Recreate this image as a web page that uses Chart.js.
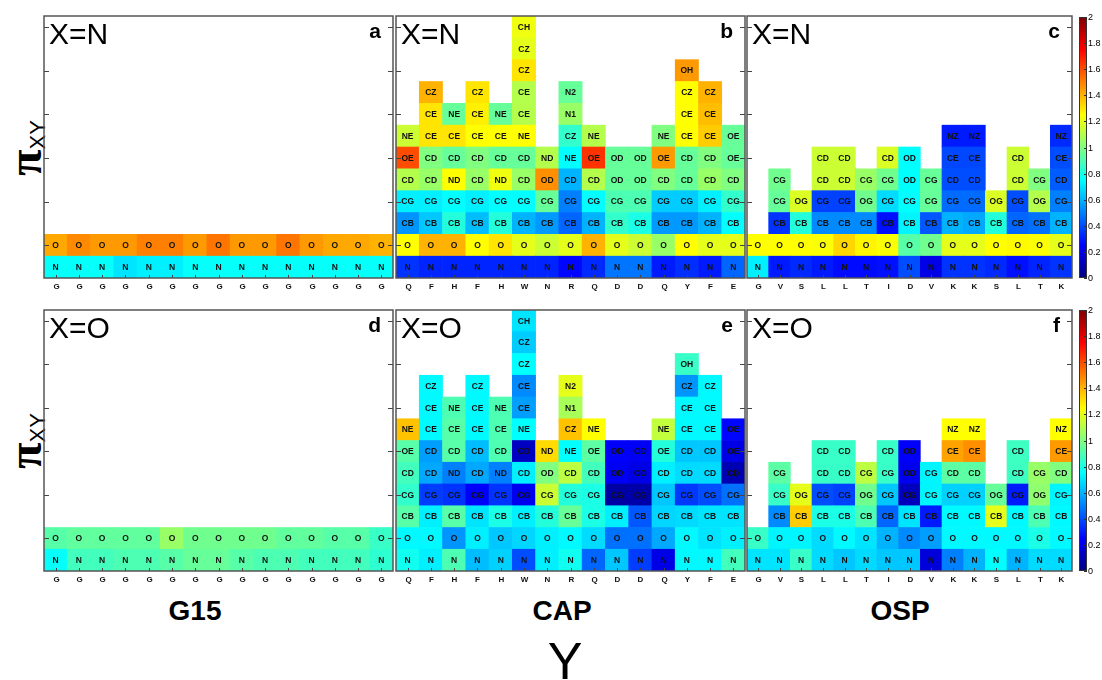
<!DOCTYPE html>
<html>
<head>
<meta charset="utf-8">
<script src="https://cdn.jsdelivr.net/npm/chart.js@4.4.1/dist/chart.umd.min.js"></script>
<style>
  body { margin: 0; background: #fff; width: 1102px; height: 680px; position: relative; overflow: hidden;
         font-family: "Liberation Sans", Arial, sans-serif; }
  canvas { position: absolute; }
  .t { position: absolute; white-space: nowrap; color: #000; line-height: 1; }
</style>
</head>
<body>
<div class="t" style="left:195px;top:597px;font-size:28px;font-weight:bold;transform:translateX(-50%)">G15</div>
<div class="t" style="left:562px;top:597px;font-size:28px;font-weight:bold;transform:translateX(-50%)">CAP</div>
<div class="t" style="left:900px;top:597px;font-size:28px;font-weight:bold;transform:translateX(-50%)">OSP</div>
<div class="t" style="left:565px;top:635px;font-size:52px;transform:translateX(-50%)">Y</div>
<div class="t" style="left:24px;top:148px;transform:translate(-50%,-50%) rotate(-90deg)"><b style="font:bold 48px 'Liberation Serif',serif">π</b><span style="font-size:22px;position:relative;top:4px">XY</span></div>
<div class="t" style="left:24px;top:441px;transform:translate(-50%,-50%) rotate(-90deg)"><b style="font:bold 48px 'Liberation Serif',serif">π</b><span style="font-size:22px;position:relative;top:4px">XY</span></div>

<script>
// ---- G15 (15 glycines, backbone N and O only) ----
const g15Res = ['G','G','G','G','G','G','G','G','G','G','G','G','G','G','G'];
const g15Atoms = [
  ['N','O'],['N','O'],['N','O'],['N','O'],['N','O'],['N','O'],['N','O'],['N','O'],
  ['N','O'],['N','O'],['N','O'],['N','O'],['N','O'],['N','O'],['N','O']
];
const g15N = [
  [0.76,1.42],[0.76,1.48],[0.76,1.45],[0.70,1.45],[0.72,1.50],[0.72,1.50],[0.76,1.45],[0.76,1.52],
  [0.76,1.45],[0.76,1.45],[0.76,1.52],[0.76,1.45],[0.76,1.42],[0.76,1.42],[0.76,1.40]
];
const g15O = [
  [0.76,0.92],[0.88,0.94],[0.88,0.94],[0.90,0.94],[0.90,0.94],[0.92,1.05],[0.95,0.97],[0.95,0.97],
  [0.92,0.97],[0.90,0.97],[0.90,0.94],[0.88,0.94],[0.88,0.92],[0.88,0.92],[0.84,0.86]
];

// ---- CAP ----
const capRes = ['Q','F','H','F','H','W','N','R','Q','D','D','Q','Y','F','E'];
const capAtoms = [
  ['N','O','CB','CG','CD','OE','NE'],
  ['N','O','CB','CG','CD','CD','CE','CE','CZ'],
  ['N','O','CB','CG','ND','CD','CE','NE'],
  ['N','O','CB','CG','CD','CD','CE','CE','CZ'],
  ['N','O','CB','CG','ND','CD','CE','NE'],
  ['N','O','CB','CG','CD','CD','NE','CE','CE','CZ','CZ','CH'],
  ['N','O','CB','CG','OD','ND'],
  ['N','O','CB','CG','CD','NE','CZ','N1','N2'],
  ['N','O','CB','CG','CD','OE','NE'],
  ['N','O','CB','CG','OD','OD'],
  ['N','O','CB','CG','OD','OD'],
  ['N','O','CB','CG','CD','OE','NE'],
  ['N','O','CB','CG','CD','CD','CE','CE','CZ','OH'],
  ['N','O','CB','CG','CD','CD','CE','CE','CZ'],
  ['N','O','CB','CG','CD','OE','OE']
];
const capN = [
  [0.35,1.25,0.54,0.72,1.10,1.60,1.15],
  [0.32,1.40,0.64,0.72,1.05,1.00,1.30,1.30,1.40],
  [0.32,1.40,0.82,0.75,1.25,0.95,1.30,0.95],
  [0.32,1.25,0.62,0.72,1.05,1.00,1.25,1.28,1.30],
  [0.32,1.30,0.82,0.75,1.22,0.95,1.25,0.95],
  [0.32,1.20,0.60,0.75,1.05,0.95,1.25,1.10,1.10,1.30,1.20,1.22],
  [0.32,1.15,0.55,0.95,1.47,1.10],
  [0.26,1.20,0.45,0.50,0.60,0.75,0.85,1.05,0.95],
  [0.33,1.40,0.60,0.75,1.10,1.65,1.10],
  [0.48,1.20,0.85,0.90,0.95,0.95],
  [0.48,1.15,0.80,0.90,0.95,0.95],
  [0.30,1.05,0.55,0.65,1.00,1.45,1.00],
  [0.34,1.25,0.55,0.65,0.95,0.95,1.25,1.25,1.25,1.45],
  [0.30,1.20,0.60,0.72,1.05,1.00,1.35,1.38,1.40],
  [0.45,1.20,0.75,0.85,1.00,0.95,0.95]
];
const capO = [
  [0.78,0.74,0.92,0.85,0.88,0.92,1.37],
  [0.72,0.74,0.72,0.37,0.58,0.56,0.74,0.74,0.74],
  [0.90,0.54,0.92,0.35,0.50,0.92,0.92,0.90],
  [0.62,0.72,0.70,0.25,0.58,0.62,0.74,0.74,0.74],
  [0.66,0.64,0.80,0.35,0.50,0.90,0.90,0.90],
  [0.40,0.67,0.72,0.22,0.72,0.13,0.75,0.56,0.52,0.75,0.65,0.70],
  [0.72,0.72,0.82,1.15,1.00,1.32],
  [0.78,0.74,0.95,0.82,1.12,0.75,1.37,1.08,1.20],
  [0.45,0.68,0.80,0.80,0.88,0.93,1.25],
  [0.64,0.47,0.72,0.07,0.23,0.24],
  [0.37,0.47,0.42,0.08,0.20,0.23],
  [0.20,0.58,0.67,0.64,0.72,0.82,1.13],
  [0.74,0.74,0.68,0.36,0.68,0.64,0.74,0.74,0.54,0.86],
  [0.74,0.70,0.70,0.40,0.68,0.64,0.74,0.74,0.74],
  [0.88,0.72,0.70,0.47,0.10,0.20,0.26]
];

// ---- OSP ----
const ospRes = ['G','V','S','L','L','T','I','D','V','K','K','S','L','T','K'];
const ospAtoms = [
  ['N','O'],
  ['N','O','CB','CG','CG'],
  ['N','O','CB','OG'],
  ['N','O','CB','CG','CD','CD'],
  ['N','O','CB','CG','CD','CD'],
  ['N','O','CB','OG','CG'],
  ['N','O','CB','CG','CG','CD'],
  ['N','O','CB','CG','OD','OD'],
  ['N','O','CB','CG','CG'],
  ['N','O','CB','CG','CD','CE','NZ'],
  ['N','O','CB','CG','CD','CE','NZ'],
  ['N','O','CB','OG'],
  ['N','O','CB','CG','CD','CD'],
  ['N','O','CB','OG','CG'],
  ['N','O','CB','CG','CD','CE','NZ']
];
const ospN = [
  [0.72,1.25],
  [0.30,1.25,0.35,0.95,0.97],
  [0.33,1.25,0.82,1.18],
  [0.30,1.24,0.52,0.38,1.15,1.15],
  [0.27,1.33,0.52,0.38,1.15,1.15],
  [0.27,1.27,0.52,0.97,1.05],
  [0.28,1.24,0.28,0.68,0.97,1.18],
  [0.40,0.92,0.73,0.75,0.75,0.75],
  [0.20,0.97,0.42,0.95,0.95],
  [0.35,1.20,0.60,0.46,0.40,0.39,0.30],
  [0.35,1.20,0.58,0.46,0.40,0.39,0.30],
  [0.33,1.25,0.82,1.18],
  [0.28,1.26,0.45,0.40,1.15,1.15],
  [0.32,1.24,0.47,1.10,1.00],
  [0.35,1.20,0.60,0.50,0.43,0.40,0.33]
];
const ospO = [
  [0.70,0.86],
  [0.70,0.73,0.52,0.86,0.93],
  [0.86,0.73,1.35,1.20],
  [0.68,0.68,0.80,0.40,0.86,0.86],
  [0.64,0.74,0.80,0.38,0.86,0.86],
  [0.68,0.70,0.90,0.97,1.12],
  [0.64,0.60,0.45,0.64,0.86,0.86],
  [0.64,0.52,0.70,0.12,0.22,0.24],
  [0.18,0.56,0.30,0.73,0.73],
  [0.50,0.74,0.74,0.66,0.93,1.43,1.25],
  [0.60,0.74,0.74,0.66,0.93,1.47,1.25],
  [0.75,0.74,1.20,0.95],
  [0.60,0.74,0.74,0.30,0.87,0.87],
  [0.68,0.80,0.90,1.03,1.05],
  [0.68,0.74,0.74,0.73,1.00,1.45,1.25]
];

const rowTicks = [1.5, 3.5, 5.5, 7.5, 9.5, 11.5];
const cbTicks = [0, 0.2, 0.4, 0.6, 0.8, 1, 1.2, 1.4, 1.6, 1.8, 2];
const NROWS = 12;

function jet(v) {
  const t = Math.max(0, Math.min(1, v / 2));
  const c = x => Math.round(255 * Math.max(0, Math.min(1, x)));
  return `rgb(${c(1.5 - Math.abs(4 * t - 3))},${c(1.5 - Math.abs(4 * t - 2))},${c(1.5 - Math.abs(4 * t - 1))})`;
}

function line(ctx, x1, y1, x2, y2) {
  ctx.beginPath(); ctx.moveTo(x1, y1); ctx.lineTo(x2, y2); ctx.stroke();
}

// cell labels, frame, ticks and panel texts
function panelPlugin(p) {
  return {
    id: 'cells',
    afterDatasetsDraw(chart) {
      const ctx = chart.ctx, ca = chart.chartArea;
      const xs = chart.scales.x, ys = chart.scales.y;
      ctx.save();
      ctx.font = 'bold 8.5px "Liberation Sans", Arial, sans-serif';
      ctx.fillStyle = '#111';
      ctx.textAlign = 'center';
      ctx.textBaseline = 'middle';
      chart.data.datasets.forEach((ds, k) => {
        chart.getDatasetMeta(k).data.forEach((bar, j) => {
          const name = p.atoms[j][k];
          if (!name) return;
          ctx.fillText(name, bar.x, (bar.y + bar.base) / 2 + 0.5);
        });
      });

      ctx.strokeStyle = '#444';
      ctx.lineWidth = 1;
      rowTicks.forEach(v => {
        const y = Math.round(ys.getPixelForValue(v)) + 0.5;
        line(ctx, ca.left, y, ca.left + 5, y);
        line(ctx, ca.right - 5, y, ca.right, y);
      });
      ctx.textBaseline = 'top';
      ctx.font = 'bold 8px "Liberation Sans", Arial, sans-serif';
      p.res.forEach((r, j) => {
        const x = Math.round(xs.getPixelForValue(j)) + 0.5;
        line(ctx, x, ca.bottom - 3, x, ca.bottom);
        ctx.fillText(r, x, ca.bottom + 5);
      });

      ctx.strokeStyle = '#555';
      ctx.lineWidth = 1.5;
      ctx.strokeRect(ca.left, ca.top, ca.width, ca.height);

      ctx.fillStyle = '#000';
      ctx.textBaseline = 'alphabetic';
      ctx.textAlign = 'left';
      ctx.font = '30px "Liberation Sans", Arial, sans-serif';
      ctx.fillText(p.tag, ca.left + 5, ca.top + 27.5);
      ctx.textAlign = 'right';
      ctx.font = 'bold 21px "Liberation Sans", Arial, sans-serif';
      ctx.fillText(p.letter, ca.right - 12, ca.top + 22);
      ctx.restore();
    }
  };
}

function makePanel(p) {
  const pad = { left: 3, right: 3, top: 3, bottom: 18 };
  const cv = document.createElement('canvas');
  cv.width = p.w + pad.left + pad.right;
  cv.height = p.h + pad.top + pad.bottom;
  cv.style.left = (p.x - pad.left) + 'px';
  cv.style.top = (p.y - pad.top) + 'px';
  document.body.appendChild(cv);

  const datasets = [];
  for (let k = 0; k < NROWS; k++) {
    datasets.push({
      label: 'row' + k,
      data: p.atoms.map(col => col.length > k ? [k, k + 1] : null),
      backgroundColor: p.vals.map(col => col.length > k ? jet(col[k]) : 'rgba(0,0,0,0)'),
      grouped: false,
      barPercentage: 1,
      categoryPercentage: 1,
      borderWidth: 0
    });
  }

  new Chart(cv, {
    type: 'bar',
    data: { labels: p.res, datasets },
    options: {
      responsive: false,
      animation: false,
      events: [],
      devicePixelRatio: 1,
      layout: { padding: pad },
      plugins: { legend: { display: false }, tooltip: { enabled: false } },
      scales: {
        x: { display: false },
        y: { display: false, min: 0, max: NROWS }
      }
    },
    plugins: [panelPlugin(p)]
  });
}

function makeColorbar(y, h) {
  const pad = { left: 3, right: 17, top: 6, bottom: 6 };
  const cv = document.createElement('canvas');
  cv.width = 8 + pad.left + pad.right;
  cv.height = h + pad.top + pad.bottom;
  cv.style.left = (1079 - pad.left) + 'px';
  cv.style.top = (y - pad.top) + 'px';
  document.body.appendChild(cv);

  new Chart(cv, {
    type: 'bar',
    data: { labels: [''], datasets: [] },
    options: {
      responsive: false, animation: false, events: [], devicePixelRatio: 1,
      layout: { padding: pad },
      plugins: { legend: { display: false }, tooltip: { enabled: false } },
      scales: { x: { display: false }, y: { display: false, min: 0, max: 2 } }
    },
    plugins: [{
      id: 'cbar',
      afterDraw(chart) {
        const ctx = chart.ctx, ca = chart.chartArea, ys = chart.scales.y;
        ctx.save();
        const g = ctx.createLinearGradient(0, ys.getPixelForValue(0), 0, ys.getPixelForValue(2));
        for (let i = 0; i <= 40; i++) g.addColorStop(i / 40, jet(i / 20));
        ctx.fillStyle = g;
        ctx.fillRect(ca.left, ca.top, ca.width, ca.height);
        ctx.strokeStyle = '#333';
        ctx.lineWidth = 1;
        ctx.strokeRect(ca.left + 0.5, ca.top + 0.5, ca.width - 1, ca.height - 1);
        ctx.fillStyle = '#000';
        ctx.font = '9px "Liberation Sans", Arial, sans-serif';
        ctx.textAlign = 'left';
        ctx.textBaseline = 'middle';
        cbTicks.forEach(v => {
          const py = Math.round(ys.getPixelForValue(v)) + 0.5;
          line(ctx, ca.right - 3, py, ca.right, py);
          ctx.fillText(String(v), ca.right + 1, py);
        });
        ctx.restore();
      }
    }]
  });
}

const topY = 16, topH = 262, botY = 310, botH = 261;
const panels = [
  { res: g15Res, atoms: g15Atoms, vals: g15N, x: 44,  y: topY, w: 349, h: topH, tag: 'X=N', letter: 'a' },
  { res: capRes, atoms: capAtoms, vals: capN, x: 396, y: topY, w: 349, h: topH, tag: 'X=N', letter: 'b' },
  { res: ospRes, atoms: ospAtoms, vals: ospN, x: 747, y: topY, w: 325, h: topH, tag: 'X=N', letter: 'c' },
  { res: g15Res, atoms: g15Atoms, vals: g15O, x: 44,  y: botY, w: 349, h: botH, tag: 'X=O', letter: 'd' },
  { res: capRes, atoms: capAtoms, vals: capO, x: 396, y: botY, w: 349, h: botH, tag: 'X=O', letter: 'e' },
  { res: ospRes, atoms: ospAtoms, vals: ospO, x: 747, y: botY, w: 325, h: botH, tag: 'X=O', letter: 'f' }
];
panels.forEach(makePanel);
makeColorbar(topY + 1, topH - 1);
makeColorbar(botY, botH);
</script>
</body>
</html>
